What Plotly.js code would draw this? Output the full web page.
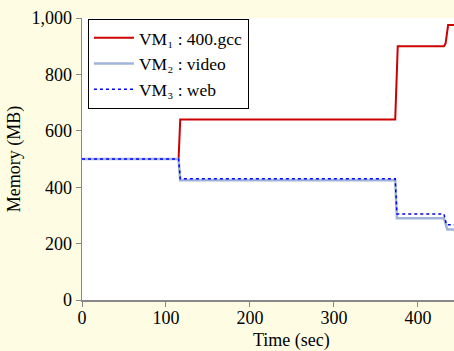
<!DOCTYPE html>
<html><head><meta charset="utf-8">
<script src="https://cdn.plot.ly/plotly-3.0.1.min.js"></script>
<style>html,body{margin:0;padding:0;background:#fefde3;}</style>
</head><body>
<div id="chart" style="width:454px;height:351px;"></div>
<script>
const vm1Time = [0, 115, 117, 373, 376, 431, 433, 436, 445];
const vm1Mem  = [500, 500, 640, 640, 900, 900, 910, 975, 975];
const vm2Time = [0, 115, 117, 373, 375, 431, 435, 445];
const vm2Mem  = [500, 500, 425, 425, 290, 290, 250, 250];
const vm3Time = [0, 115, 117, 373, 375, 431, 434, 445];
const vm3Mem  = [500, 500, 430, 430, 305, 305, 267, 267];
const names = ["VM\u2081 : 400.gcc", "VM\u2082 : video", "VM\u2083 : web"];
const xTicks = [0, 100, 200, 300, 400];
const yTicks = [0, 200, 400, 600, 800, 1000];

const traces = [
  {x: vm1Time, y: vm1Mem, name: names[0], mode: "lines", line: {color: "#cc0000", width: 2}},
  {x: vm2Time, y: vm2Mem, name: names[1], mode: "lines", line: {color: "#9fb4d8", width: 2.5}},
  {x: vm3Time, y: vm3Mem, name: names[2], mode: "lines", line: {color: "#0000ff", width: 1.5, dash: "dot"}}
];
const fam = "Liberation Serif, Times New Roman, serif";
const layout = {
  width: 454, height: 351,
  margin: {l: 82, r: 0, t: 18, b: 51},
  paper_bgcolor: "#fefde3",
  plot_bgcolor: "#ffffff",
  font: {family: fam, size: 18, color: "#000"},
  showlegend: true,
  legend: {x: 0.016, y: 0.997, xanchor: "left", yanchor: "top", bgcolor: "#ffffff",
           bordercolor: "#000", borderwidth: 1, font: {family: fam, size: 17.5},
           tracegroupgap: 0, itemwidth: 40},
  xaxis: {range: [0, 443], tickvals: xTicks, ticks: "outside", ticklen: 5, tickcolor: "#888",
          showline: true, linecolor: "#888", linewidth: 1.5, showgrid: false, zeroline: false,
          ticklabelstandoff: -4,
          tickfont: {family: fam, size: 18}},
  yaxis: {range: [0, 1000], tickvals: yTicks, tickformat: ",d", ticks: "outside", ticklen: 5, tickcolor: "#888",
          showline: true, linecolor: "#888", linewidth: 1.5, showgrid: false, zeroline: false,
          tickfont: {family: fam, size: 18},
          title: {text: "Memory (MB)", font: {family: fam, size: 18}, standoff: 6}},
  annotations: [{text: "Time (sec)", xref: "paper", yref: "paper", x: 0.562, y: -0.142,
                 xanchor: "center", yanchor: "middle", showarrow: false,
                 font: {family: fam, size: 18, color: "#000"}}]
};
Plotly.newPlot("chart", traces, layout, {displayModeBar: false, staticPlot: true});
</script>
</body></html>
